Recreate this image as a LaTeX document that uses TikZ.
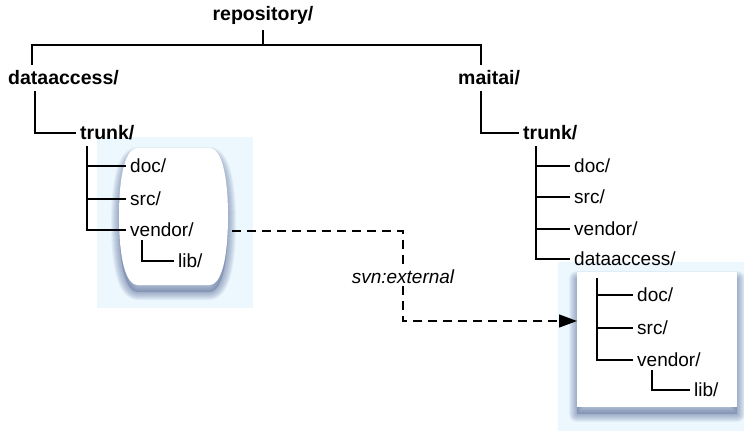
\documentclass[tikz,border=0pt]{standalone}
\usepackage{fontspec}
\setmainfont{Liberation Sans}
\usetikzlibrary{arrows.meta}
\definecolor{halo}{HTML}{ECF7FE}
\definecolor{shade}{HTML}{45598A}

% rounded "barrel" outline holding the external's target folder
\newcommand\barrelpath[1]{%
  \path[#1] (138,148) -- (209,148)
    .. controls (224,148) and (228,185) .. (228,216)
    .. controls (228,248) and (224,285) .. (209,285)
    -- (138,285)
    .. controls (123,285) and (119,248) .. (119,216)
    .. controls (119,185) and (123,148) .. (138,148) -- cycle;}
% plain box holding the imported copy
\newcommand\boxpath[1]{\path[#1] (577,272) rectangle (737,407);}

\begin{document}
\begin{tikzpicture}[x=1pt,y=-1pt,
  dir/.style={anchor=west, inner xsep=4pt, inner ysep=3pt,
    font=\fontsize{19}{21}\selectfont},
  topdir/.style={dir, inner ysep=6pt, font=\fontsize{19.5}{21}\selectfont\bfseries},
  branch/.style={line width=1.3pt, line cap=butt},
  extline/.style={line width=1.3pt, dash pattern=on 9pt off 6pt},
  softshadow/.style={draw=shade, draw opacity=0.065, line join=round}]
\useasboundingbox (0,0) rectangle (744,431);

% light halos behind the two folder groups
\fill[halo] (97,137) rectangle (253,308);
\fill[halo] (558,262) rectangle (744,431);

% blurred drop shadows
\begin{scope}[yshift=-7pt]
  \barrelpath{fill=shade, fill opacity=0.3}
  \foreach \w in {2,4,...,16}{\barrelpath{softshadow, line width=\w pt}}
  \boxpath{fill=shade, fill opacity=0.3}
  \foreach \w in {2,4,...,16}{\boxpath{softshadow, line width=\w pt}}
\end{scope}
\barrelpath{fill=white}
\node[fill=white, inner sep=0, minimum width=160pt, minimum height=135pt,
  anchor=north west] (rbox) at (577,272) {};

% column positions of the tree lines
\coordinate (hy) at (263,45);
\coordinate (c0) at (32,0);
\coordinate (c1) at (35,0);
\coordinate (cm) at (481,0);
\coordinate (c2) at (87,0);
\coordinate (c3) at (142,0);
\coordinate (c4) at (536,0);
\coordinate (c5) at (597,0);
\coordinate (c6) at (652,0);
\coordinate (i0) at (597,278);

% folders
\node[topdir, anchor=center] (repo) at (263,15) {repository/};
\node[topdir] (da) at (4,78) {dataaccess/};
\node[topdir] (mt) at (454,78) {maitai/};
\node[topdir] (tl) at (76,133) {trunk/};
\node[topdir] (tr) at (519,133) {trunk/};

\node[dir] (docl) at (126,166) {doc/};
\node[dir] (srcl) at (126,199) {src/};
\node[dir] (vendl) at (126,230) {vendor/};
\node[dir] (libl) at (174,261) {lib/};

\node[dir] (docr) at (570,166) {doc/};
\node[dir] (srcr) at (570,197) {src/};
\node[dir] (vendr) at (570,229) {vendor/};
\node[dir] (dar) at (570,259) {dataaccess/};

\node[dir] (doci) at (633,295) {doc/};
\node[dir] (srci) at (633,328) {src/};
\node[dir] (vendi) at (633,360) {vendor/};
\node[dir] (libi) at (690,390) {lib/};

% tree connectors
\draw[branch] (repo.south) -- (hy);
\draw[branch] (da.north -| c0) |- (hy) -| (mt.north -| cm);
\draw[branch] (da.south -| c1) |- (tl.west);
\draw[branch] (mt.south -| cm) |- (tr.west);

\draw[branch] (tl.south -| c2) |- (vendl.west);
\draw[branch] (c2 |- docl.west) -- (docl.west);
\draw[branch] (c2 |- srcl.west) -- (srcl.west);
\draw[branch] (vendl.south -| c3) |- (libl.west);

\draw[branch] (tr.south -| c4) |- (dar.west);
\draw[branch] (c4 |- docr.west) -- (docr.west);
\draw[branch] (c4 |- srcr.west) -- (srcr.west);
\draw[branch] (c4 |- vendr.west) -- (vendr.west);

\draw[branch] (i0) |- (vendi.west);
\draw[branch] (c5 |- doci.west) -- (doci.west);
\draw[branch] (c5 |- srci.west) -- (srci.west);
\draw[branch] (vendi.south -| c6) |- (libi.west);

% svn:externals link
\coordinate (ext0) at (232,231);
\coordinate (ey) at (0,321);
\node[fill=white, inner sep=2pt, font=\fontsize{19}{21}\selectfont\itshape] (ext) at (403,277) {svn:external};
\draw[extline] (ext0) -| (ext.north);
\draw[extline, -{Triangle[length=18pt, width=13pt]}] (ext.south) |- (rbox.west |- ey);
\end{tikzpicture}
\end{document}
